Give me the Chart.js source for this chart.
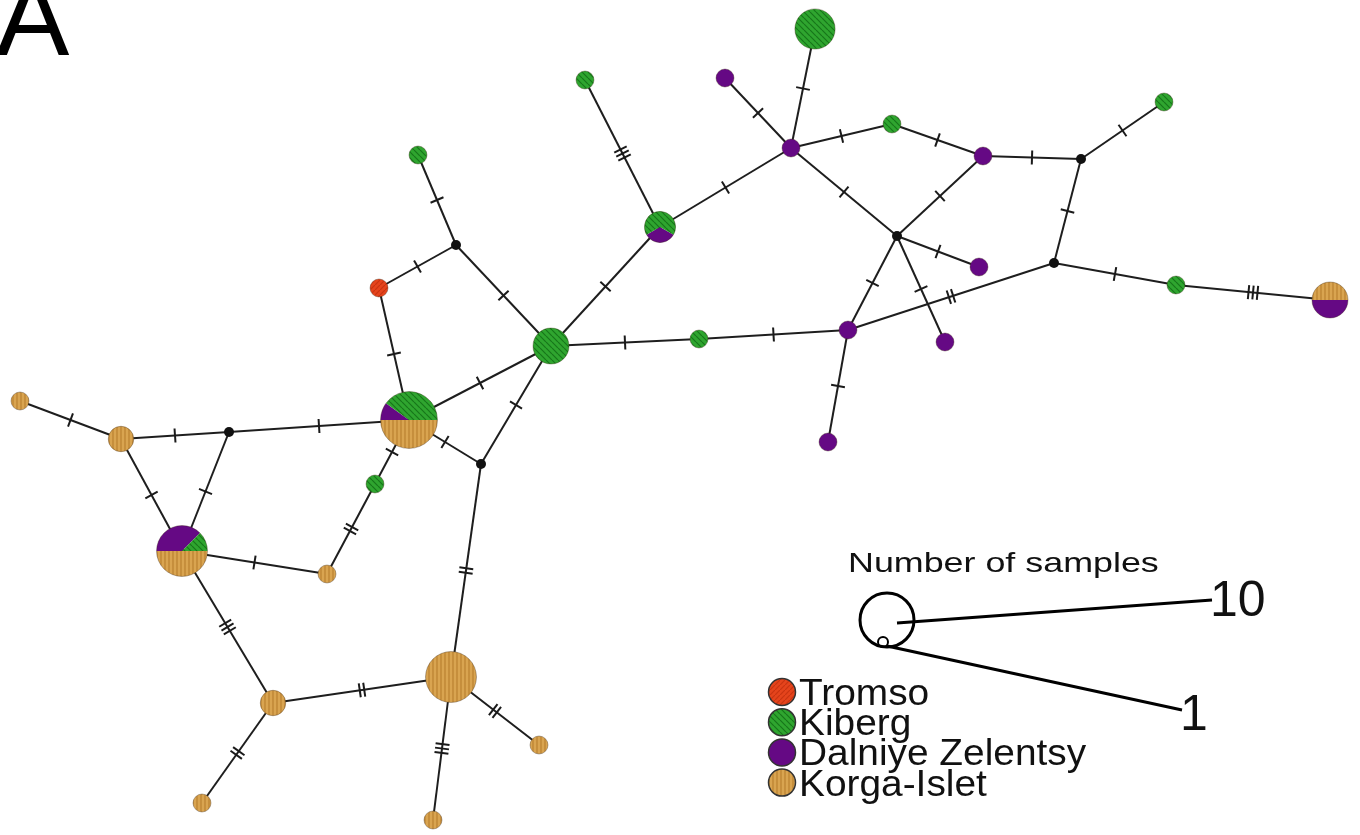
<!DOCTYPE html>
<html>
<head>
<meta charset="utf-8">
<script src="https://cdn.jsdelivr.net/npm/chart.js@4/dist/chart.umd.min.js"></script>
<style>
  html, body { margin: 0; padding: 0; background: #fff; }
  #net { display: block; }
</style>
</head>
<body>
<canvas id="net" width="1360" height="835"></canvas>
<script>
// ==================== haplotypes ===================
// layout position of every haplotype (median vectors have no samples)
const nodeX = [379, 456, 418, 409, 551, 660, 585, 791, 725, 815, 892, 983, 1081, 1164, 897, 979, 1054, 1176, 1330, 848, 945, 828, 699, 481, 375, 229, 121, 20, 182, 327, 273, 451, 539, 202, 433];
const nodeY = [288, 245, 155, 420, 346, 227, 80, 148, 78, 29, 124, 156, 159, 102, 236, 267, 263, 285, 300, 330, 342, 442, 339, 464, 484, 432, 439, 401, 551, 574, 703, 677, 745, 803, 820];

// number of samples per population in every haplotype
const tromso  = [1, 0, 0, 0, 0, 0, 0, 0, 0, 0, 0, 0, 0, 0, 0, 0, 0, 0, 0, 0, 0, 0, 0, 0, 0, 0, 0, 0, 0, 0, 0, 0, 0, 0, 0];
const kiberg  = [0, 0, 1, 4, 4, 2, 1, 0, 0, 5, 1, 0, 0, 1, 0, 0, 0, 1, 0, 0, 0, 0, 1, 0, 1, 0, 0, 0, 1, 0, 0, 0, 0, 0, 0];
const dalniye = [0, 0, 0, 1, 0, 1, 0, 1, 1, 0, 0, 1, 0, 0, 0, 1, 0, 0, 2, 1, 1, 1, 0, 0, 0, 0, 0, 0, 3, 0, 0, 0, 0, 0, 0];
const korga   = [0, 0, 0, 5, 0, 0, 0, 0, 0, 0, 0, 0, 0, 0, 0, 0, 0, 0, 2, 0, 0, 0, 0, 0, 0, 0, 2, 1, 4, 1, 2, 8, 1, 1, 1];
// rotation of the pie (degrees) for a few nodes
const nodeTurn = {5: 30, 18: 180};

// ==================== links ===================
const edgeFrom  = [0, 1, 0, 1, 3, 4, 5, 5, 7, 7, 7, 10, 11, 12, 7, 11, 14, 14, 14, 19, 12, 16, 17, 4, 22, 19, 4, 3, 23, 3, 25, 26, 26, 25, 28, 29, 24, 28, 30, 30, 31, 31];
const edgeTo    = [1, 2, 3, 4, 4, 5, 6, 7, 8, 9, 10, 11, 12, 13, 14, 14, 15, 19, 20, 16, 16, 17, 18, 22, 19, 21, 23, 23, 31, 25, 26, 27, 28, 28, 29, 24, 3, 30, 31, 33, 32, 34];
const edgeSteps = [1, 1, 1, 1, 1, 1, 3, 1, 1, 1, 1, 1, 1, 1, 1, 1, 1, 1, 1, 2, 1, 1, 3, 1, 1, 1, 1, 1, 2, 1, 1, 1, 1, 1, 1, 2, 1, 3, 2, 2, 2, 3];

// ==================== legend ===================
const populations = ["Tromso", "Kiberg", "Dalniye Zelentsy", "Korga-Islet"];
const sizeLabels = ["10", "1"];

// ==================== fills ===================
function hatch(base, line, size, draw) {
  const c = document.createElement("canvas");
  c.width = size; c.height = size;
  const g = c.getContext("2d");
  g.fillStyle = base;
  g.fillRect(0, 0, size, size);
  g.strokeStyle = line;
  g.lineWidth = 1.2;
  draw(g, size);
  return g.createPattern(c, "repeat");
}
const fillTromso = hatch("#e5441c", "#c93412", 5, (g, s) => { g.beginPath(); g.moveTo(0, s); g.lineTo(s, 0); g.stroke(); });
const fillKiberg = hatch("#2fa52f", "#17761a", 6, (g, s) => {
  g.beginPath(); g.moveTo(0, 0); g.lineTo(s, s); g.moveTo(-s, 0); g.lineTo(0, s); g.moveTo(s, 0); g.lineTo(2 * s, s); g.stroke();
});
const fillDalniye = "#650984";
const fillKorga = hatch("#d9a450", "#b9812f", 4, (g, s) => { g.beginPath(); g.moveTo(1, 0); g.lineTo(1, s); g.stroke(); });
const popFill = [fillTromso, fillKiberg, fillDalniye, fillKorga];
const popCounts = [tromso, kiberg, dalniye, korga];
// slices start at 3 o'clock in this order: Korga, Dalniye, Kiberg, Tromso
const sliceOrder = [3, 2, 1, 0];

function radiusOf(n) {
  return n === 0 ? 5 : 9 * Math.sqrt(n);
}

function drawPie(ctx, x, y, counts, turn) {
  const total = counts.reduce((a, b) => a + b, 0);
  const r = radiusOf(total);
  if (total === 0) {
    ctx.beginPath();
    ctx.arc(x, y, r, 0, Math.PI * 2);
    ctx.fillStyle = "#111";
    ctx.fill();
    return;
  }
  let a = (turn || 0) * Math.PI / 180;
  sliceOrder.forEach(p => {
    if (!counts[p]) return;
    const a2 = a + counts[p] / total * Math.PI * 2;
    ctx.beginPath();
    ctx.moveTo(x, y);
    ctx.arc(x, y, r, a, a2);
    ctx.closePath();
    ctx.fillStyle = popFill[p];
    ctx.fill();
    a = a2;
  });
  ctx.beginPath();
  ctx.arc(x, y, r, 0, Math.PI * 2);
  ctx.strokeStyle = "rgba(60,40,20,0.35)";
  ctx.lineWidth = 1;
  ctx.stroke();
}

// text stretched sideways like the original figure lettering
function wideText(ctx, text, x, y, sx) {
  ctx.save();
  ctx.translate(x, y);
  ctx.scale(sx, 1);
  ctx.fillText(text, 0, 0);
  ctx.restore();
}

// ==================== plugin: mutations, pies, legend ===================
const networkPlugin = {
  id: "network",
  afterDatasetsDraw(chart) {
    const ctx = chart.ctx;
    const xs = chart.scales.x, ys = chart.scales.y;
    ctx.save();

    // mutation steps drawn as hatch marks across the middle of each link
    ctx.strokeStyle = "#1a1a1a";
    ctx.lineWidth = 2;
    edgeFrom.forEach((f, i) => {
      const t = edgeTo[i];
      const x1 = xs.getPixelForValue(nodeX[f]), y1 = ys.getPixelForValue(nodeY[f]);
      const x2 = xs.getPixelForValue(nodeX[t]), y2 = ys.getPixelForValue(nodeY[t]);
      const len = Math.hypot(x2 - x1, y2 - y1);
      const ux = (x2 - x1) / len, uy = (y2 - y1) / len;
      const mx = (x1 + x2) / 2, my = (y1 + y2) / 2;
      const n = edgeSteps[i];
      for (let k = 0; k < n; k++) {
        const off = (k - (n - 1) / 2) * 4.5;
        const cx = mx + ux * off, cy = my + uy * off;
        ctx.beginPath();
        ctx.moveTo(cx - uy * 7, cy + ux * 7);
        ctx.lineTo(cx + uy * 7, cy - ux * 7);
        ctx.stroke();
      }
    });

    // haplotype pies
    const meta = chart.getDatasetMeta(chart.data.datasets.length - 1);
    meta.data.forEach((pt, i) => {
      drawPie(ctx, pt.x, pt.y, popCounts.map(c => c[i]), nodeTurn[i]);
    });

    // panel letter
    ctx.fillStyle = "#000";
    ctx.textBaseline = "alphabetic";
    ctx.font = "110px 'Liberation Sans', Arial, sans-serif";
    ctx.fillText("A", -4, 55);

    // sample size key
    ctx.fillStyle = "#111";
    ctx.font = "28px 'Liberation Sans', Arial, sans-serif";
    wideText(ctx, "Number of samples", 848, 572, 1.28);
    ctx.strokeStyle = "#000";
    ctx.lineWidth = 3;
    ctx.beginPath(); ctx.arc(887, 620, 27, 0, Math.PI * 2); ctx.stroke();
    ctx.lineWidth = 2;
    ctx.beginPath(); ctx.arc(883, 642, 5, 0, Math.PI * 2); ctx.stroke();
    ctx.lineWidth = 3;
    ctx.beginPath(); ctx.moveTo(897, 623); ctx.lineTo(1212, 600); ctx.stroke();
    ctx.beginPath(); ctx.moveTo(887, 646); ctx.lineTo(1182, 710); ctx.stroke();
    ctx.font = "50px 'Liberation Sans', Arial, sans-serif";
    ctx.fillText(sizeLabels[0], 1210, 616);
    ctx.fillText(sizeLabels[1], 1180, 730);

    // population key
    ctx.font = "37px 'Liberation Sans', Arial, sans-serif";
    populations.forEach((name, i) => {
      const y = 692 + i * 30.2;
      ctx.beginPath();
      ctx.arc(782, y, 13.5, 0, Math.PI * 2);
      ctx.fillStyle = popFill[i];
      ctx.fill();
      ctx.strokeStyle = "#333";
      ctx.lineWidth = 1.5;
      ctx.stroke();
      ctx.fillStyle = "#111";
      wideText(ctx, name, 799, y + 13, 1.05);
    });
    ctx.restore();
  }
};

// ==================== chart ===================
const edgeSets = edgeFrom.map((f, i) => ({
  type: "line",
  data: [{ x: nodeX[f], y: nodeY[f] }, { x: nodeX[edgeTo[i]], y: nodeY[edgeTo[i]] }],
  borderColor: "#1e1e1e",
  borderWidth: 2,
  pointRadius: 0,
  fill: false,
  tension: 0,
}));

const nodeSet = {
  type: "scatter",
  data: nodeX.map((x, i) => ({ x: x, y: nodeY[i] })),
  pointRadius: 0,
  pointHoverRadius: 0,
};

new Chart(document.getElementById("net"), {
  type: "scatter",
  data: { datasets: [...edgeSets, nodeSet] },
  options: {
    responsive: false,
    animation: false,
    layout: { padding: 0 },
    plugins: { legend: { display: false }, tooltip: { enabled: false } },
    scales: {
      x: { type: "linear", min: 0, max: 1360, display: false },
      y: { type: "linear", min: 0, max: 835, reverse: true, display: false },
    },
  },
  plugins: [networkPlugin],
});
</script>
</body>
</html>
